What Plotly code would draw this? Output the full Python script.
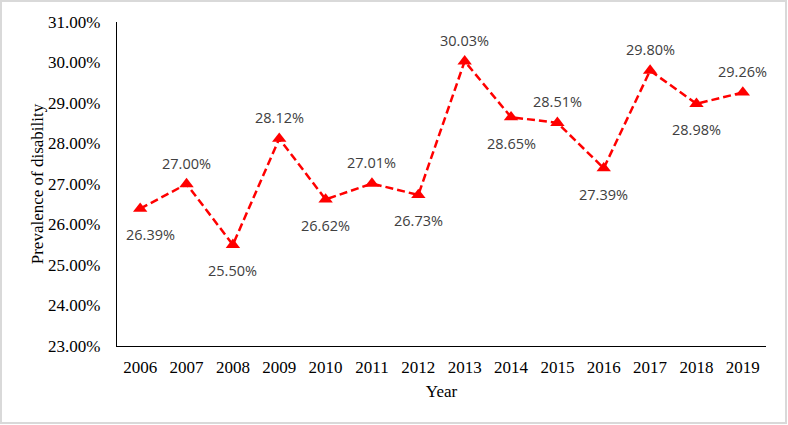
import plotly.graph_objects as go

years = [2006, 2007, 2008, 2009, 2010, 2011, 2012,
         2013, 2014, 2015, 2016, 2017, 2018, 2019]
prevalence = [26.39, 27.00, 25.50, 28.12, 26.62, 27.01, 26.73,
              30.03, 28.65, 28.51, 27.39, 29.80, 28.98, 29.26]
label_side = ["below", "above", "below", "above", "below", "above", "below",
              "above", "below", "above", "below", "above", "below", "above"]
y_ticks = [23, 24, 25, 26, 27, 28, 29, 30, 31]

fig = go.Figure()
fig.add_trace(go.Scatter(
    x=years, y=prevalence, mode="lines+markers",
    line=dict(color="#FF0000", width=2.5, dash="8px,4px"),
    marker=dict(symbol="triangle-up", size=12.5, color="#FF0000"),
    hoverinfo="skip", showlegend=False,
))

annotations = []
for i, (yr, v, side) in enumerate(zip(years, prevalence, label_side)):
    annotations.append(dict(
        x=yr, y=v, xref="x", yref="y", text=f"{v:.2f}%", showarrow=False,
        yanchor="middle", xanchor="center",
        yshift=21 if side == "above" else -26,
        xshift=10 if i == 0 else 0,
        font=dict(family="Open Sans", size=14.5, color="#404040"),
    ))

W, H = 788, 425
ml, mr, mt, mb = 117, 22, 22, 79
pw, ph = W - ml - mr, H - mt - mb

fig.update_layout(
    width=W, height=H,
    margin=dict(l=ml, r=mr, t=mt, b=mb, autoexpand=False),
    paper_bgcolor="white", plot_bgcolor="white",
    font=dict(family="Liberation Serif", size=17, color="black"),
    annotations=annotations,
    shapes=[dict(type="rect", xref="paper", yref="paper",
                 x0=(1 - ml) / pw, x1=1 + (mr - 2) / pw,
                 y0=-(mb - 2) / ph, y1=1 + (mt - 1) / ph,
                 line=dict(color="#D9D9D9", width=2), layer="below")],
    xaxis=dict(
        range=[years[0] - 0.5, years[-1] + 0.5],
        tickvals=years, ticktext=[str(y) for y in years],
        showgrid=False, zeroline=False, automargin=False,
        showline=True, linecolor="black", linewidth=1.3,
        ticks="", ticklabelstandoff=5,
        tickfont=dict(family="Liberation Serif", size=17, color="black"),
        title=dict(text="Year", standoff=9,
                   font=dict(family="Liberation Serif", size=17, color="black")),
        fixedrange=True,
    ),
    yaxis=dict(
        range=[23, 31], tickvals=y_ticks,
        ticktext=[f"{t:.2f}%" for t in y_ticks],
        showgrid=False, zeroline=False, automargin=False,
        showline=True, linecolor="black", linewidth=1.3,
        ticks="", ticklabelstandoff=12,
        tickfont=dict(family="Liberation Serif", size=17, color="black"),
        title=dict(text="Prevalence of disability", standoff=0,
                   font=dict(family="Liberation Serif", size=17, color="black")),
        fixedrange=True,
    ),
)

fig.write_html("out.html", config={"displayModeBar": False},
               post_script="document.body.style.margin='0';")
